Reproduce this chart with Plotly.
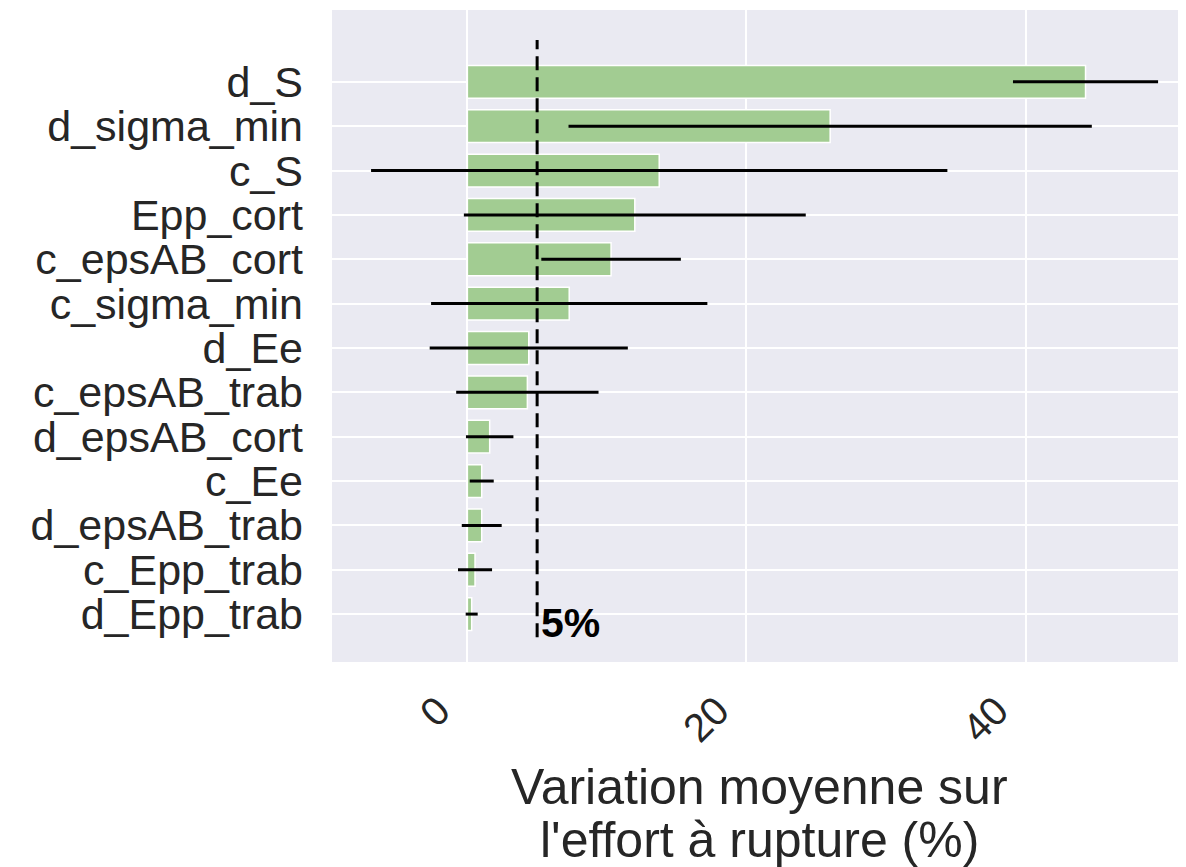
import plotly.graph_objects as go

params = ['d_S', 'd_sigma_min', 'c_S', 'Epp_cort', 'c_epsAB_cort', 'c_sigma_min',
          'd_Ee', 'c_epsAB_trab', 'd_epsAB_cort', 'c_Ee', 'd_epsAB_trab',
          'c_Epp_trab', 'd_Epp_trab']
mean_var = [44.3, 26.0, 13.75, 12.0, 10.3, 7.3, 4.4, 4.3, 1.6, 1.03, 1.03, 0.55, 0.31]
std_var = [5.2, 18.75, 20.65, 12.25, 5.0, 9.9, 7.1, 5.1, 1.7, 0.86, 1.43, 1.22, 0.43]
seuil = 5
xlabel = ['Variation moyenne sur', "l'effort à rupture (%)"]

font = 'Liberation Sans, Arial, sans-serif'

fig = go.Figure()
fig.add_trace(go.Bar(
    y=params, x=mean_var, orientation='h', width=0.74,
    marker=dict(color='#a2cc92', line=dict(color='white', width=1.5)),
    error_x=dict(type='data', array=std_var, color='black', thickness=3, width=0),
))

# ligne du seuil 5 %
fig.add_shape(type='line', xref='x', yref='y domain', x0=seuil, x1=seuil,
              y0=0.038, y1=0.954, line=dict(color='black', width=3, dash='14px,7px'))
fig.add_annotation(x=seuil, xref='x', xanchor='left', xshift=2,
                   y=params[-1], yanchor='middle', yshift=-9,
                   text='<b>5%</b>', showarrow=False,
                   font=dict(family=font, size=41, color='black'))

# titre de l'axe x sur deux lignes
for i, txt in enumerate(xlabel):
    fig.add_annotation(x=0.5, xref='paper', y=0, yref='paper', yanchor='middle',
                       yshift=-125 - 53 * i, text=txt, showarrow=False,
                       font=dict(family=font, size=50, color='#262626'))

# la page ajoute une marge de 8 px en haut et à gauche
fig.update_layout(
    width=1178, height=859,
    margin=dict(l=324, r=0, t=2, b=205),
    plot_bgcolor='#eaeaf2', paper_bgcolor='white',
    showlegend=False,
    font=dict(family=font, size=43, color='#262626'),
    xaxis=dict(range=[-9.7, 51.5], tickvals=[0, 20, 40], tickangle=-45,
               tickfont=dict(size=40), ticklabelshift=-29, ticklabelstandoff=16,
               showgrid=True, gridcolor='white', gridwidth=2, zeroline=False,
               ticks='', automargin=False),
    yaxis=dict(categoryorder='array', categoryarray=params,
               tickmode='array', tickvals=params, ticktext=params,
               ticklabelstandoff=28,
               range=[13.08, -1.62], showgrid=True, gridcolor='white', gridwidth=2,
               ticks='', zeroline=False, automargin=False),
)

fig.write_html('out.html')
